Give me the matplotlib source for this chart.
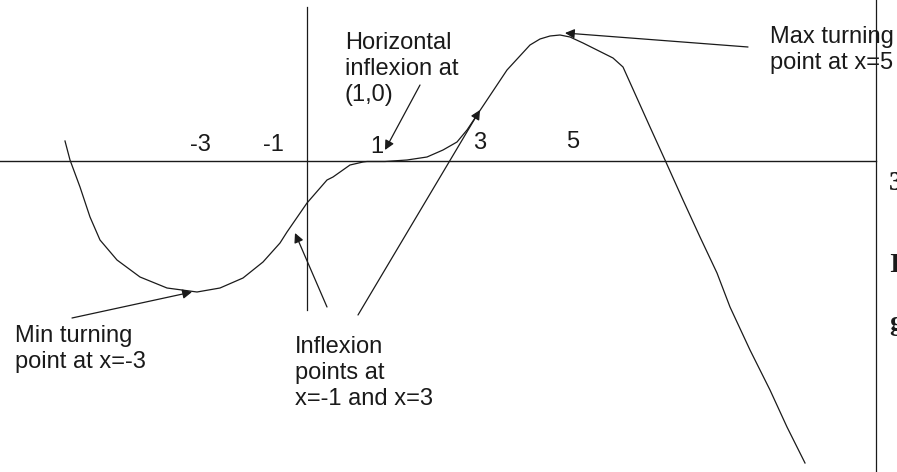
import numpy as np
import matplotlib
matplotlib.use('Agg')
import matplotlib.pyplot as plt

# Sketch coordinates (x to the right, y downwards)
curve_x = [65, 70, 80, 90, 100, 117, 140, 167, 197, 220, 243, 263, 280, 287, 307, 327,
           333, 350, 363, 367, 385, 407, 427, 443, 457, 467, 477, 487, 507, 530, 540,
           550, 560, 570, 583, 597, 613, 623, 632, 650, 665, 683, 700, 717, 730, 750,
           770, 787, 805]
curve_y = [141, 160, 187, 217, 240, 260, 277, 288, 292, 288, 278, 262, 243, 232, 203, 180,
           177, 165, 162, 161.5, 161.5, 160, 157, 150, 142, 130, 115, 100, 70, 45, 39,
           36, 35, 37, 43, 50, 58, 67, 87, 127, 160, 200, 237, 273, 307, 350,
           390, 427, 463]

axis_y = 161          # horizontal axis
axis_x = 307          # vertical axis
border_x = 876        # page edge line on the right

tick_labels = ['-3', '-1', '1', '3', '5']
tick_x = [200, 273, 377, 480, 573]
tick_y = [145, 145, 147, 143, 142]

notes = ['Horizontal\ninflexion at\n(1,0)',
         'Max turning\npoint at x=5',
         'Min turning\npoint at x=-3',
         'Inflexion\npoints at\nx=-1 and x=3']
note_x = [345, 770, 15, 295]
note_y = [69, 50, 349, 373]

# arrows: tail -> tip
arrow_tail = [(420, 85), (748, 47), (72, 318), (327, 307), (358, 315)]
arrow_tip = [(385, 150), (565, 33), (192, 292), (295, 233), (480, 110)]

ink = '#1a1a1a'
plt.rcParams['font.family'] = ['Liberation Sans', 'DejaVu Sans']

fig = plt.figure(figsize=(8.97, 4.72), dpi=100)
ax = fig.add_axes([0, 0, 1, 1])
ax.set_xlim(0, 897)
ax.set_ylim(472, 0)
ax.axis('off')

# axes of the sketch and page edge
ax.plot([0, border_x], [axis_y, axis_y], color=ink, lw=1.0)
ax.plot([axis_x, axis_x], [7, 310], color=ink, lw=0.9)
ax.plot([border_x, border_x], [0, 472], color=ink, lw=0.9)

# the curve
ax.plot(curve_x, curve_y, color=ink, lw=0.9, solid_joinstyle='round')

for lab, x, y in zip(tick_labels, tick_x, tick_y):
    ax.text(x, y, lab, ha='center', va='center', fontsize=17, color=ink)

for txt, x, y in zip(notes, note_x, note_y):
    ax.text(x, y, txt, ha='left', va='center', fontsize=17, color=ink,
            linespacing=1.22)

for tail, tip in zip(arrow_tail, arrow_tip):
    ax.annotate('', xy=tip, xytext=tail,
                arrowprops=dict(arrowstyle='-|>', color=ink, lw=0.9,
                                mutation_scale=14, shrinkA=0, shrinkB=0))

# clipped text from the neighbouring page
for ch, y in zip(['3', 'I', 'g'], [183, 265, 323]):
    ax.text(889, y, ch, ha='left', va='center', fontsize=20, color=ink,
            family='Liberation Serif', fontweight='bold')

fig.savefig('out.png', dpi=100)
